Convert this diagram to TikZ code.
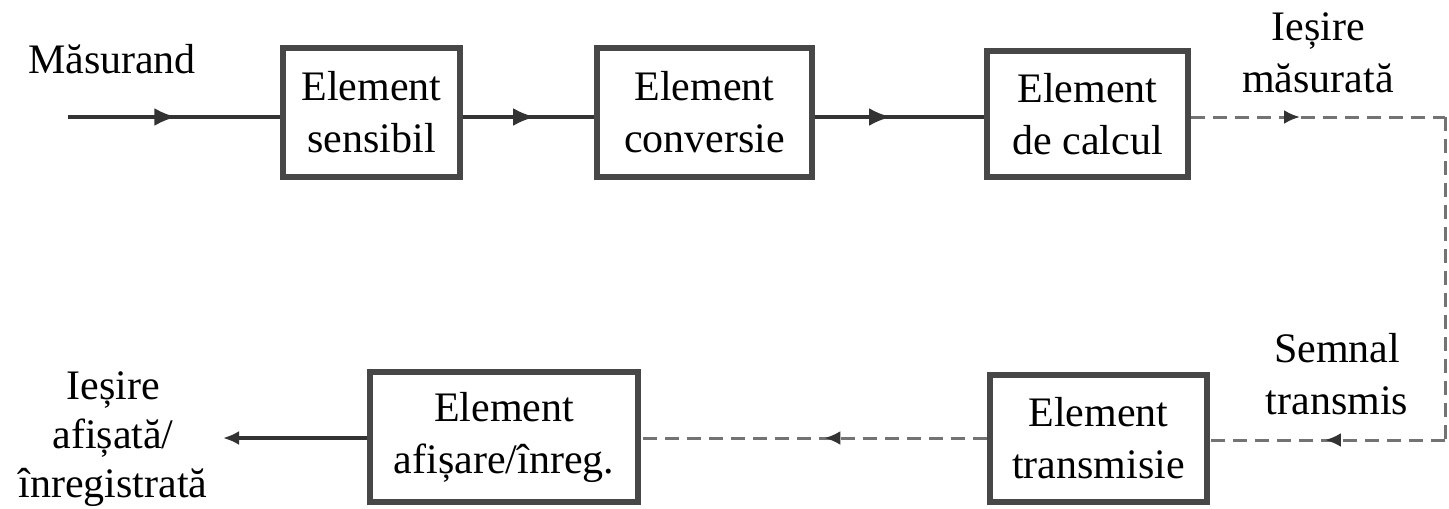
\documentclass[tikz,border=0pt]{standalone}
\usepackage{fontspec}
\setmainfont{Liberation Serif}
\usetikzlibrary{arrows.meta,decorations.markings}
\tikzset{
  blk/.style={draw=black!72, line width=2.6pt, fill=white, align=center, inner sep=0pt},
  lbl/.style={align=center, inner sep=0pt},
  conn/.style={draw=black!80, line width=1.8pt},
  dconn/.style={draw=black!55, line width=1.5pt, dash pattern=on 7pt off 4pt},
  midarrow/.style={postaction={decorate}, decoration={markings,
     mark=at position #1 with {\arrow{Latex[length=11pt,width=9pt]}}}},
  midarrowsmall/.style={postaction={decorate}, decoration={markings,
     mark=at position #1 with {\arrow[black!80]{Latex[length=8pt,width=7pt]}}}}
}
\begin{document}
\begin{tikzpicture}[x=0.5pt,y=-0.5pt,font=\fontsize{21}{26}\selectfont]
\useasboundingbox (0,0) rectangle (1449,508);
% blocks
\node[blk, minimum width=88.5pt, minimum height=64.5pt] (b1) at (371.5,112.5) {Element\\sensibil};
\node[blk, minimum width=107.5pt, minimum height=64.5pt] (b2) at (704.5,112.5) {Element\\conversie};
\node[blk, minimum width=100.5pt, minimum height=63pt] (b3) at (1087.5,114) {Element\\de calcul};
\node[blk, minimum width=134pt, minimum height=65pt] (b4) at (504,437) {Element\\afișare/înreg.};
\node[blk, minimum width=108.5pt, minimum height=63.5pt] (b5) at (1098.5,438.5) {Element\\transmisie};
% labels
\node[lbl] (l1) at (112,59) {Măsurand};
\node[lbl] (l2) at (1318,52.5) {Ieșire\\măsurată};
\node[lbl] (l3) at (1337,374) {Semnal\\transmis};
\node[lbl, font=\fontsize{21}{24.5}\selectfont] (l4) at (113,439) {Ieșire\\afișată/\\înregistrată};
% coordinates
\coordinate (in) at (68,117);
\coordinate (c1) at (1445,117);
\coordinate (c2) at (1445,440);
\coordinate (out) at (223,438);
% connectors
\draw[conn, midarrow=0.51] (in) -- (in -| b1.west);
\draw[conn, midarrow=0.55] (b1.east |- in) -- (b2.west |- in);
\draw[conn, midarrow=0.45] (b2.east |- in) -- (b3.west |- in);
\draw[dconn, midarrowsmall=0.43] (b3.east |- c1) -- (c1);
\draw[dconn] (c1) -- (c2);
\draw[dconn, midarrowsmall=0.51] (c2) -- (b5.east |- c2);
\draw[dconn, midarrowsmall=0.47] (b5.west |- out) -- (b4.east |- out);
\draw[conn, -{Latex[length=8pt,width=7pt]}] (b4.west |- out) -- (out);
\end{tikzpicture}
\end{document}
